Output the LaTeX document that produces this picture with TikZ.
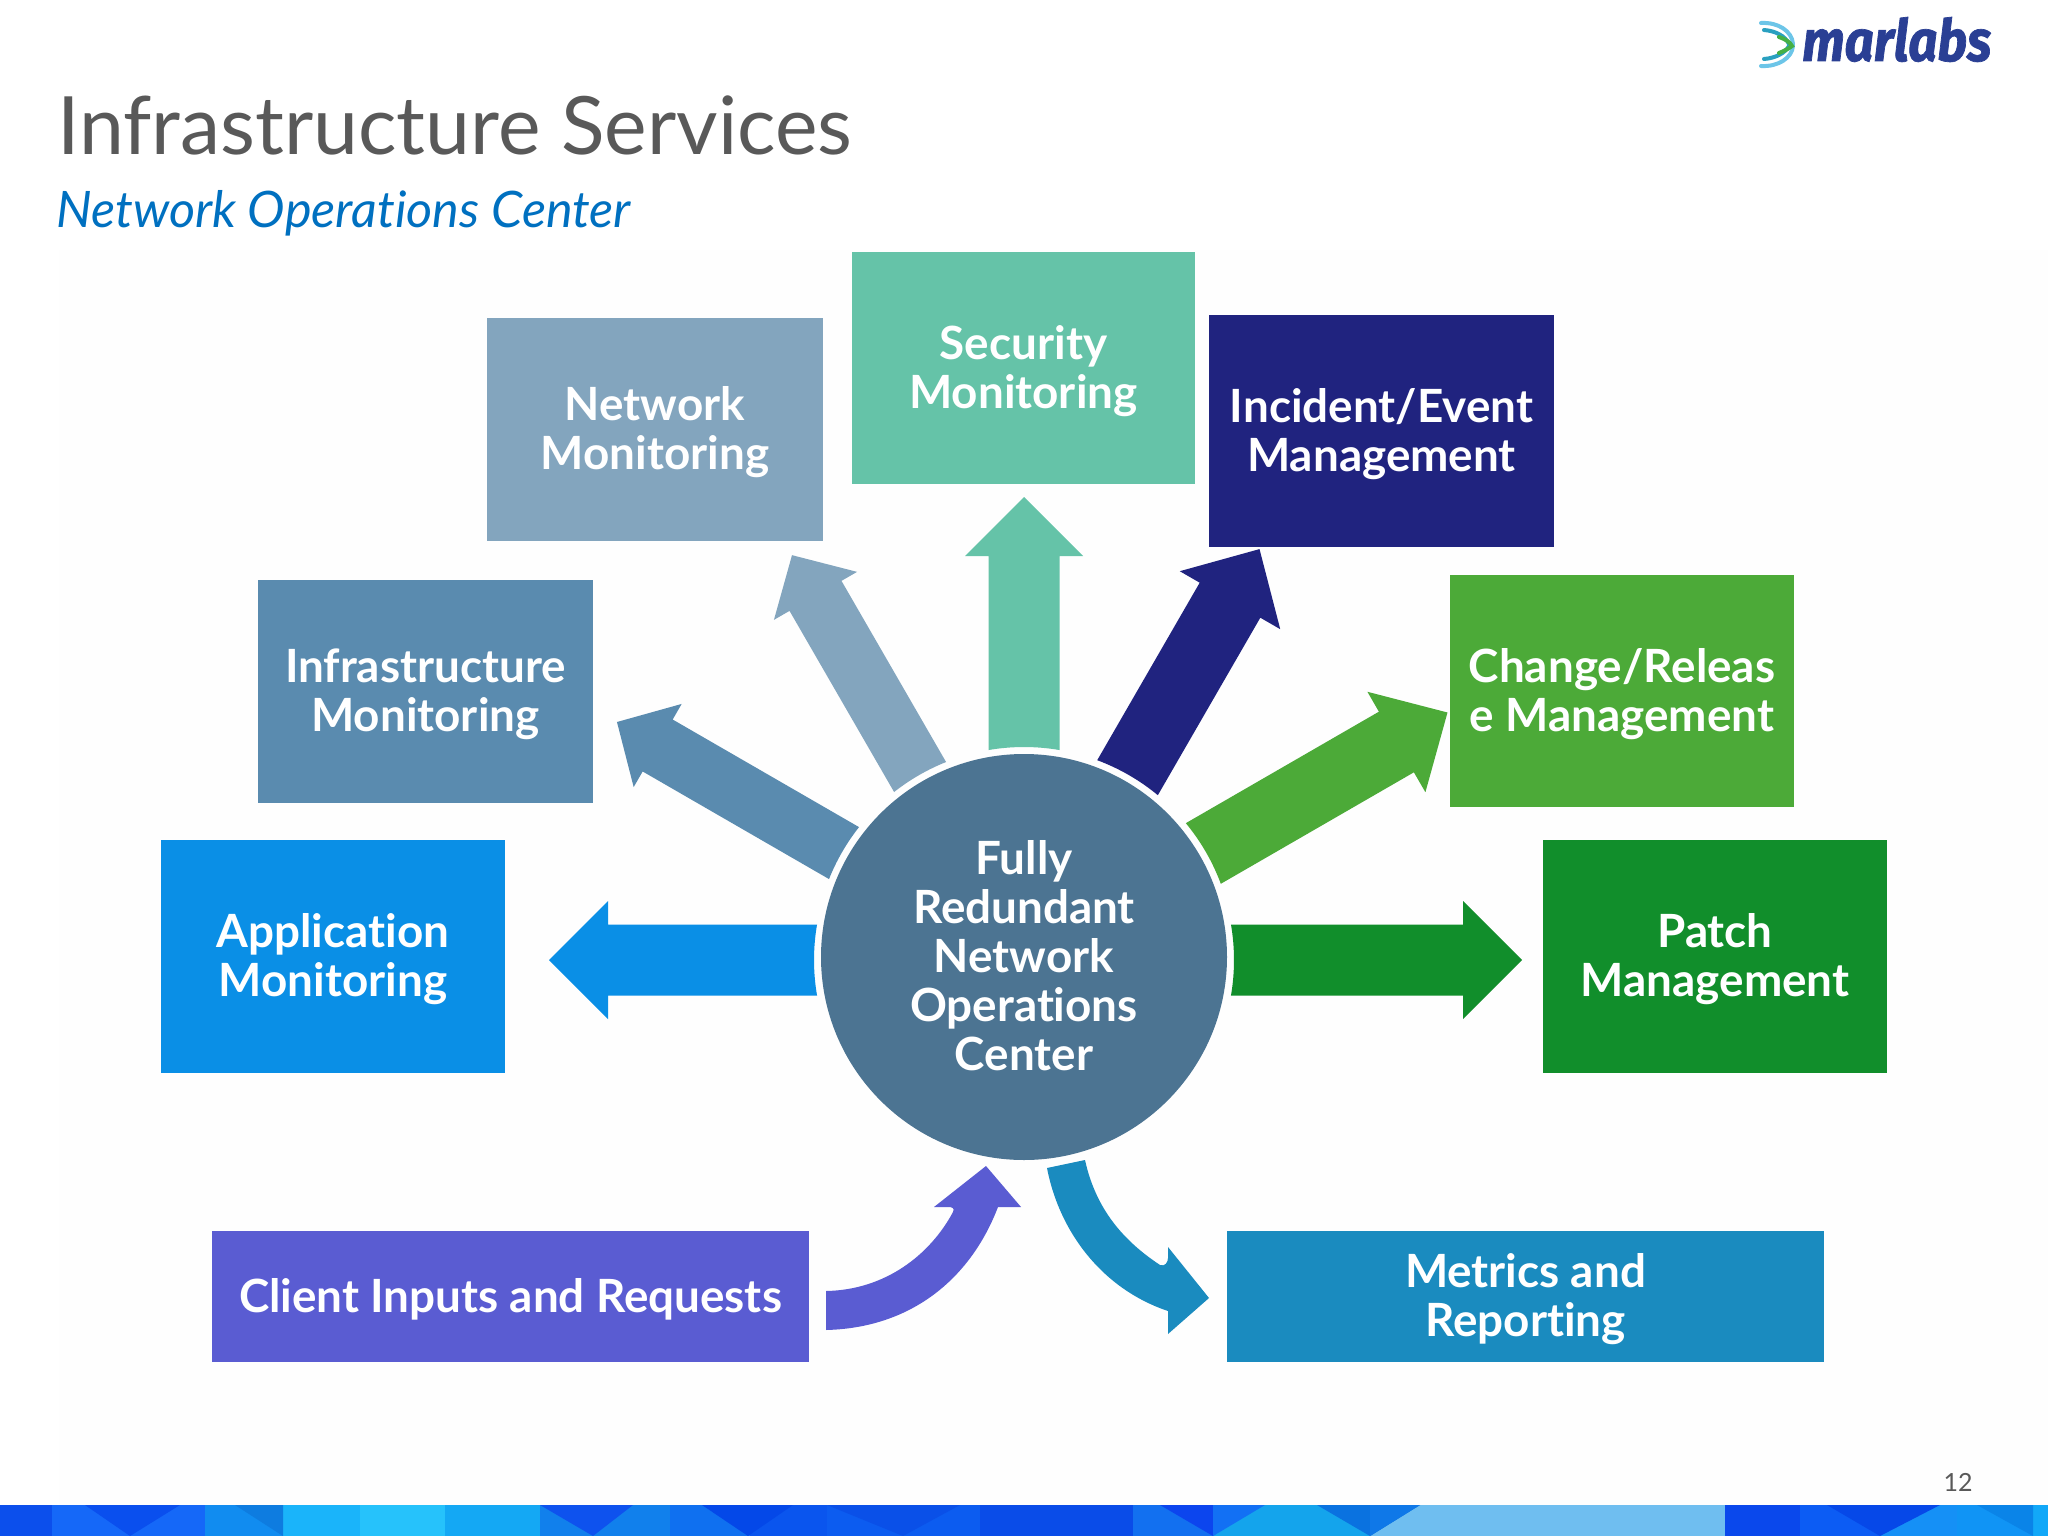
\documentclass[tikz,border=0pt]{standalone}
\usepackage{fontspec}
\setmainfont{Lato}[Ligatures=NoCommon]
\newfontfamily\logofont{Fira Sans}[FakeStretch=0.88,FakeBold=1.2]
\definecolor{cNet}{HTML}{83A5BE}
\definecolor{cSec}{HTML}{65C3A8}
\definecolor{cInc}{HTML}{20237F}
\definecolor{cInf}{HTML}{5A8BAF}
\definecolor{cChg}{HTML}{4CAA38}
\definecolor{cApp}{HTML}{0A8FE6}
\definecolor{cPat}{HTML}{118E2B}
\definecolor{cCli}{HTML}{5A5CD2}
\definecolor{cMet}{HTML}{1A8BBF}
\definecolor{cHub}{HTML}{4C7492}
\definecolor{cTitle}{HTML}{595959}
\definecolor{cSub}{HTML}{0070C0}
\definecolor{cLogo}{HTML}{2A3F94}
\definecolor{cBg}{HTML}{FEFEFE}
\definecolor{cRibA}{HTML}{6CC5E8}
\definecolor{cRibB}{HTML}{2AA0C0}
\definecolor{cRibC}{HTML}{45B045}
\tikzset{
  box/.style={rectangle,inner sep=0pt},
  boxlabel/.style={inner sep=0pt,align=center,text=white,yshift=-3pt,
    font=\fontsize{45.8}{49}\selectfont\bfseries},
  hubnode/.style={circle,inner sep=0pt,minimum size=406pt,fill=cHub},
  hublabel/.style={boxlabel,yshift=4pt},
  ribbon/.style={line width=4pt,line cap=round},
}
% colour, angle, tip distance, shaft half width, head half width, head length, vertical offset
\newcommand{\blockarrow}[7]{%
  \pgfmathsetmacro{\ringang}{asin(#4/210)}
  \fill[#1,shift={([yshift=#7]hub.center)},rotate=#2,x=1pt,y=1pt]
    (\ringang:210) -- ({#3-#6},#4) -- ({#3-#6},#5) -- (#3,0)
    -- ({#3-#6},-#5) -- ({#3-#6},-#4) -- (-\ringang:210)
    arc[start angle=-\ringang,end angle=\ringang,radius=210] -- cycle;
}
\newcommand{\stripe}[3]{\definecolor{tmpc}{HTML}{#3}\fill[tmpc] (#1,1505) rectangle (#2,1536);}
\newcommand{\vtri}[4]{\definecolor{tmpc}{HTML}{#4}\fill[tmpc] (#1,1505) -- (#2,1505) -- (#3,1536) -- cycle;}
\begin{document}
\begin{tikzpicture}[x=1pt,y=-1pt]
\useasboundingbox (0,0) rectangle (2048,1536);
\fill[white] (0,0) rectangle (2048,1536);
\fill[cBg] (59,250) rectangle (2048,1505);

% footer band
\stripe{0}{52}{0C4FEC}
\stripe{52}{205}{1568F8}
\stripe{205}{283}{118CF0}
\stripe{283}{360}{1AB4FA}
\stripe{360}{445}{26C2FB}
\stripe{445}{540}{14A8F4}
\stripe{540}{670}{1180EC}
\stripe{670}{750}{0F70F0}
\stripe{750}{827}{0A55EE}
\stripe{827}{980}{0C5CF0}
\stripe{980}{1133}{0A4CE8}
\stripe{1133}{1213}{1270F0}
\stripe{1213}{1370}{14A4EC}
\stripe{1370}{1725}{6FBEF0}
\stripe{1725}{1800}{0A48EC}
\stripe{1800}{1880}{0C5CF4}
\stripe{1880}{1957}{1590F6}
\stripe{1957}{2033}{1094F5}
\stripe{2033}{2048}{12A8F8}
\vtri{85}{180}{130}{0A4FEE}
\vtri{235}{283}{283}{0E7CE0}
\vtri{540}{633}{593}{0E52EE}
\vtri{702}{793}{748}{0448E8}
\vtri{827}{960}{903}{0A50E8}
\vtri{1160}{1253}{1213}{0C45EE}
\vtri{1213}{1265}{1213}{1270F4}
\vtri{1317}{1420}{1370}{0A72E0}
\vtri{1370}{1420}{1370}{0F78E8}
\vtri{1827}{1940}{1880}{0648E8}
\vtri{1977}{2033}{2033}{0A84E8}

% titles
\node[anchor=base west,inner sep=0pt,text=cTitle,font=\fontsize{80.5}{84}\selectfont] (title) at (57,154) {Infrastructure Services};
\node[anchor=base west,inner sep=0pt,text=cSub,font=\fontsize{50.3}{54}\selectfont\itshape] (subtitle) at (56,227) {Network Operations Center};
\node[anchor=center,inner sep=0pt,text=cTitle,font=\fontsize{25}{28}\selectfont] (pageno) at (1958,1482) {12};

% logo
\draw[ribbon,cRibA] (1761,23) .. controls (1778,22) and (1792,31) .. (1793,44);
\draw[ribbon,cRibB] (1764,30) .. controls (1776,31) and (1785,36) .. (1789,44);
\draw[ribbon,cRibA] (1761,66) .. controls (1778,67) and (1792,58) .. (1793,46);
\draw[ribbon,cRibB] (1764,59) .. controls (1776,58) and (1785,53) .. (1789,46);
\draw[ribbon,cRibC] (1779,37) .. controls (1785,39) and (1790,42) .. (1792,46) .. controls (1788,49) and (1784,51) .. (1779,53);
\node[anchor=base west,inner sep=0pt,text=cLogo,font=\logofont\fontsize{58}{60}\selectfont\bfseries\itshape] (logo) at (1802,61) {marlabs};

% hub
\node[hubnode,label={[hublabel]center:{Fully\\Redundant\\Network\\Operations\\Center}}] (hub) at (1024,957) {};

% boxes
\node[box,fill=cNet,minimum width=336pt,minimum height=223pt,label={[boxlabel]center:{Network\\Monitoring}}] (net) at (655,429.5) {};
\node[box,fill=cSec,minimum width=343pt,minimum height=232pt,label={[boxlabel]center:{Security\\Monitoring}}] (sec) at (1023.5,368) {};
\node[box,fill=cInc,minimum width=345pt,minimum height=232pt,label={[boxlabel]center:{Incident/Event\\Management}}] (inc) at (1381.5,431) {};
\node[box,fill=cInf,minimum width=335pt,minimum height=223pt,label={[boxlabel]center:{Infrastructure\\Monitoring}}] (inf) at (425.5,691.5) {};
\node[box,fill=cChg,minimum width=344pt,minimum height=232pt,label={[boxlabel]center:{Change/Releas\\e Management}}] (chg) at (1622,691) {};
\node[box,fill=cApp,minimum width=344pt,minimum height=233pt,label={[boxlabel]center:{Application\\Monitoring}}] (app) at (333,956.5) {};
\node[box,fill=cPat,minimum width=344pt,minimum height=233pt,label={[boxlabel]center:{Patch\\Management}}] (pat) at (1715,956.5) {};
\node[box,fill=cCli,minimum width=597pt,minimum height=131pt,label={[boxlabel]center:{Client Inputs and Requests}}] (cli) at (510.5,1296.5) {};
\node[box,fill=cMet,minimum width=597pt,minimum height=131pt,label={[boxlabel]center:{Metrics and\\Reporting}}] (met) at (1525.5,1296.5) {};

% straight block arrows
\blockarrow{cSec}{90}{460}{35.5}{59}{59}{0pt}
\blockarrow{cNet}{120}{464}{30}{48}{47}{0pt}
\blockarrow{cInf}{150}{470}{30}{48}{47}{0pt}
\blockarrow{cInc}{60}{471}{35}{58}{59}{0pt}
\blockarrow{cChg}{30}{489}{35}{58}{59}{0pt}
\blockarrow{cApp}{180}{475}{35.5}{59}{59}{-3pt}
\blockarrow{cPat}{0}{498}{35.5}{59}{59}{-3pt}

% curved arrows
\fill[cCli] (826,1291) .. controls (885,1290) and (930,1255) .. (953,1212)
  .. controls (955,1208) and (952,1207) .. (948,1207) -- (934,1207) -- (986,1166) -- (1021,1207) -- (998,1207)
  .. controls (970,1280) and (910,1328) .. (826,1330) -- cycle;
\fill[cMet] (1085,1160) .. controls (1097,1215) and (1130,1245) .. (1160,1265)
  .. controls (1165,1267) and (1168,1262) .. (1168,1258) -- (1168,1247) -- (1209,1298) -- (1168,1334) -- (1168,1311)
  .. controls (1105,1290) and (1060,1235) .. (1047,1168) -- cycle;
\end{tikzpicture}
\end{document}
